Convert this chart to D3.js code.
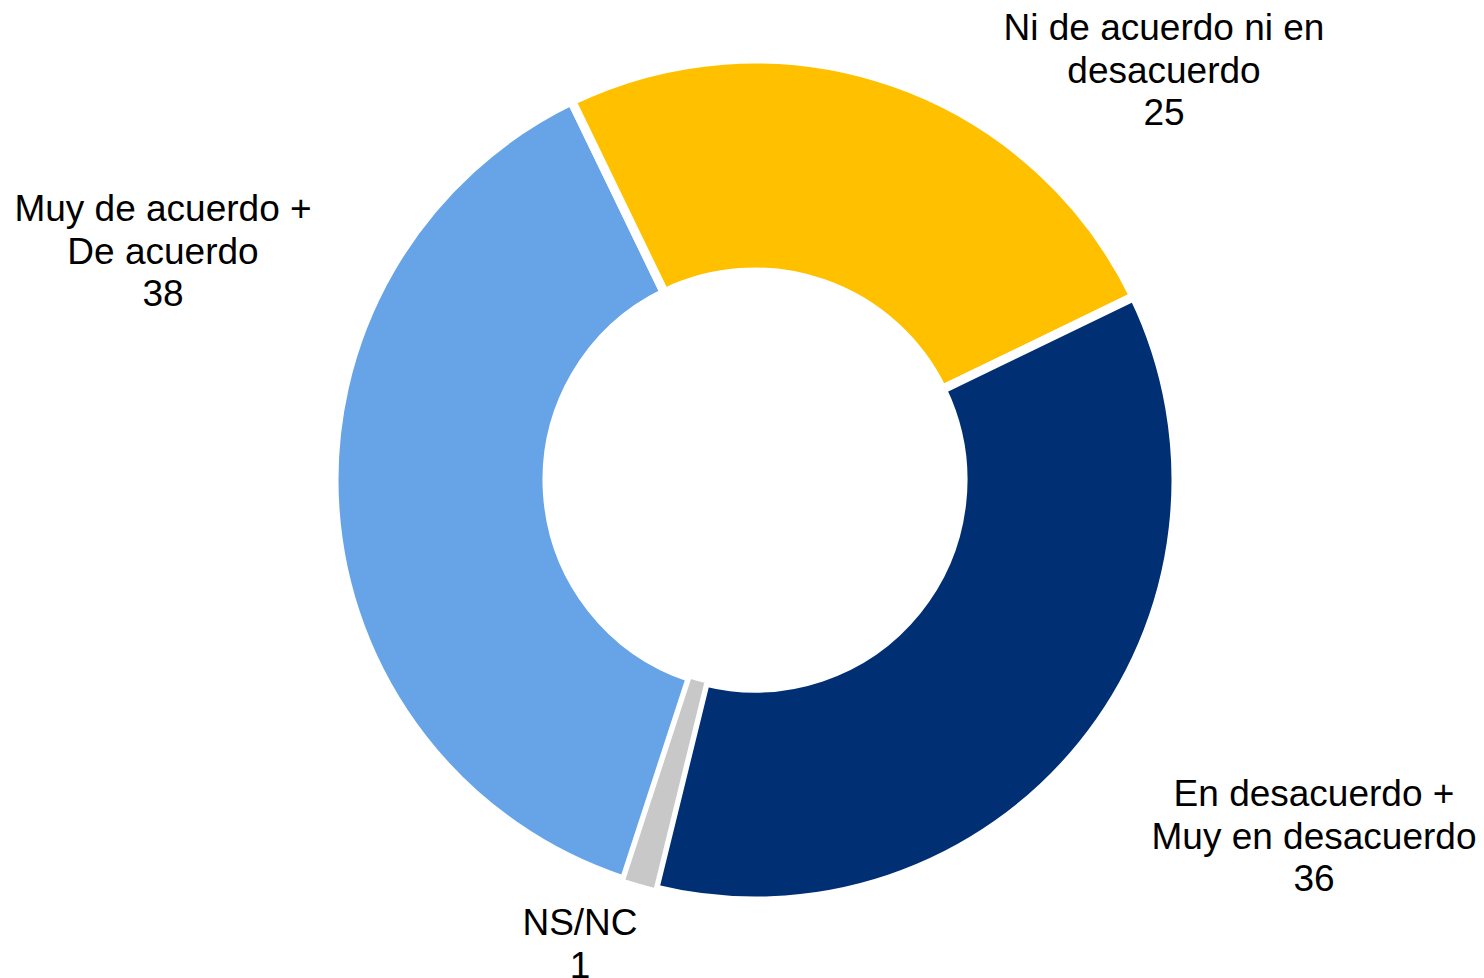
<!DOCTYPE html>
<html>
<head>
<meta charset="utf-8">
<script src="https://cdn.jsdelivr.net/npm/d3@7"></script>
<style>
  body { margin: 0; background: #fff; }
  svg { display: block; }
</style>
</head>
<body>
<svg id="chart"></svg>
<script>
// datos del gráfico (etiquetas redondeadas)
const categories = [
  ["Muy de acuerdo +", "De acuerdo"],
  ["Ni de acuerdo ni en", "desacuerdo"],
  ["En desacuerdo +", "Muy en desacuerdo"],
  ["NS/NC"]
];
const values = [37.8, 25, 36, 1.2];
const colors = ["#67A4E7", "#FFC000", "#003073", "#C8C8C8"];

// posición de cada etiqueta (centro del bloque, línea base de la primera línea)
const labelPos = [[163, 221], [1164, 40], [1314, 806], [580, 935]];

const width = 1484;
const height = 978;
const cx = 755, cy = 480;
const outerR = 421, innerR = 208;

const svg = d3.select("#chart")
    .attr("width", width)
    .attr("height", height);

const start = 198.1 * Math.PI / 180;
const pie = d3.pie()
    .sort(null)
    .startAngle(start)
    .endAngle(start + 2 * Math.PI);

const arc = d3.arc()
    .innerRadius(innerR)
    .outerRadius(outerR);

const arcs = pie(values);
const fmt = d3.format(".0f");

// el sector pequeño se dibuja al final con un borde fino, como en el original
svg.append("g")
    .attr("transform", `translate(${cx},${cy})`)
    .selectAll("path")
    .data(arcs)
    .enter().append("path")
    .attr("d", arc)
    .attr("fill", (d, i) => colors[i])
    .attr("stroke", "#fff")
    .attr("stroke-width", (d, i) => i === 3 ? 2 : 9)
    .attr("stroke-linejoin", "miter");

const labels = svg.append("g")
    .attr("font-family", "Arial, 'Liberation Sans', Helvetica, sans-serif")
    .attr("font-size", 37)
    .attr("fill", "#000")
    .attr("text-anchor", "middle");

arcs.forEach((d, i) => {
  const lines = categories[i].concat([fmt(values[i])]);
  const t = labels.append("text")
      .attr("x", labelPos[i][0])
      .attr("y", labelPos[i][1]);
  lines.forEach((l, j) => {
    t.append("tspan")
        .attr("x", labelPos[i][0])
        .attr("dy", j === 0 ? 0 : 42.5)
        .text(l);
  });
});
</script>
</body>
</html>
